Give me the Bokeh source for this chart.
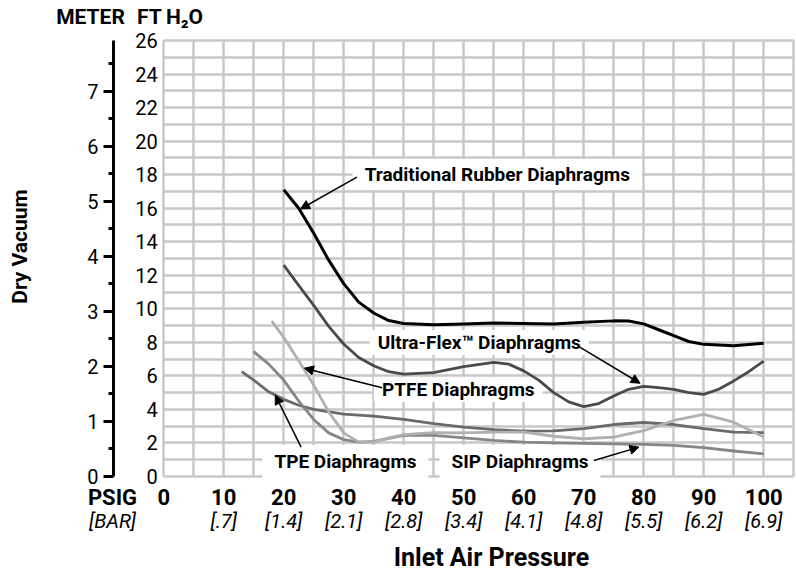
import math
from bokeh.plotting import figure
from bokeh.models import LinearAxis, Range1d, FixedTicker, Label, Arrow, NormalHead, Grid
from bokeh.embed import file_html
from bokeh.resources import INLINE

FONT = "Roboto"
FT_PER_M = 3.281

# ---- axes ----
psig_ticks = [0, 10, 20, 30, 40, 50, 60, 70, 80, 90, 100]
bar_labels = ["", "[.7]", "[1.4]", "[2.1]", "[2.8]", "[3.4]", "[4.1]", "[4.8]", "[5.5]", "[6.2]", "[6.9]"]
ft_ticks = [0, 2, 4, 6, 8, 10, 12, 14, 16, 18, 20, 22, 24, 26]
meter_ticks = [0, 1, 2, 3, 4, 5, 6, 7]
meter_minor = [0.5, 1.5, 2.5, 3.5, 4.5, 5.5, 6.5, 7.5]
unit_heads = ["METER", "FT", "H\u2082O"]

# ---- dry vacuum curves (ft H2O vs inlet PSIG) ----
rubber_psig = [20, 22.5, 25, 27.5, 30, 32.5, 35, 37.5, 40, 45, 50, 55, 60, 65, 70, 75, 77.5, 80, 82.5, 85, 87.5, 90, 95, 100]
rubber_ft = [17.1, 16.0, 14.5, 12.9, 11.5, 10.4, 9.75, 9.3, 9.12, 9.05, 9.1, 9.15, 9.12, 9.1, 9.2, 9.28, 9.27, 9.1, 8.75, 8.4, 8.05, 7.88, 7.8, 7.95]

ultra_psig = [20, 22.5, 25, 27.5, 30, 32.5, 35, 37.5, 40, 45, 50, 55, 57.5, 60, 62.5, 65, 67.5, 70, 72.5, 75, 77.5, 80, 82.5, 85, 87.5, 90, 92.5, 95, 97.5, 100]
ultra_ft = [12.6, 11.4, 10.2, 8.95, 7.9, 7.1, 6.6, 6.25, 6.1, 6.2, 6.55, 6.8, 6.7, 6.3, 5.75, 5.0, 4.45, 4.17, 4.35, 4.8, 5.2, 5.37, 5.3, 5.2, 5.0, 4.9, 5.2, 5.7, 6.25, 6.88]

ptfe_psig = [18, 20, 22.5, 25, 27.5, 30, 32.5, 35, 37.5, 40, 45, 50, 55, 60, 65, 70, 75, 80, 85, 90, 95, 100]
ptfe_ft = [9.26, 8.3, 6.9, 5.45, 3.85, 2.6, 2.05, 2.05, 2.3, 2.5, 2.62, 2.6, 2.65, 2.65, 2.4, 2.25, 2.35, 2.74, 3.34, 3.7, 3.24, 2.35]

tpe_psig = [13, 15, 17.5, 20, 22.5, 25, 30, 35, 40, 45, 50, 55, 60, 65, 70, 75, 80, 85, 90, 95, 100]
tpe_ft = [6.26, 5.75, 5.05, 4.6, 4.25, 4.0, 3.72, 3.6, 3.4, 3.15, 2.95, 2.8, 2.7, 2.72, 2.85, 3.1, 3.22, 3.1, 2.85, 2.65, 2.62]

sip_psig = [15, 17.5, 20, 22.5, 25, 27.5, 30, 32.5, 35, 40, 45, 50, 55, 60, 65, 70, 75, 80, 85, 90, 95, 100]
sip_ft = [7.45, 6.7, 5.75, 4.5, 3.4, 2.6, 2.2, 2.05, 2.1, 2.45, 2.45, 2.3, 2.15, 2.05, 2.0, 1.98, 1.95, 1.92, 1.85, 1.72, 1.52, 1.35]

GRID = "#c8c8c8"
PX_PER_FT = 16.77
FRAME_TOP, FRAME_BOTTOM = 28, 484
X0, X1 = -27.2, 105.3     # plot area also holds the two vertical scales on the left
Y0 = -(FRAME_BOTTOM - 476.0) / PX_PER_FT
Y1 = Y0 + (FRAME_BOTTOM - FRAME_TOP) / PX_PER_FT


def px_x(px):
    """canvas x pixel -> PSIG"""
    return round((px - 163.2) / 6.0, 2)


def px_y(py):
    """canvas y pixel -> ft H2O"""
    return (476.0 - py) / PX_PER_FT


p = figure(width=796, height=577,
           x_range=Range1d(X0, X1), y_range=Range1d(Y0, Y1),
           output_backend="svg", toolbar_location=None,
           min_border_left=0, min_border_right=1,
           min_border_top=FRAME_TOP, min_border_bottom=577 - FRAME_BOTTOM,
           background_fill_color="white", border_fill_color="white")
p.outline_line_color = None

xa = p.below[0]
ya = p.left[0]

# grid only over the 0-105 PSIG / 0-26 ft area
xg = p.xgrid[0]
yg = p.ygrid[0]
xg.ticker = FixedTicker(ticks=list(range(0, 106, 5)))
yg.ticker = FixedTicker(ticks=list(range(0, 27)))
if "cross_bounds" in Grid.properties():
    xg.bounds = (0, 105)
    xg.cross_bounds = (0, 26)
    yg.bounds = (0, 26)
    yg.cross_bounds = (0, 105)
    for g in (xg, yg):
        g.grid_line_color = GRID
        g.grid_line_width = 2.5
else:
    xg.visible = False
    yg.visible = False
    gx = list(range(0, 106, 5))
    gy = list(range(0, 27))
    p.segment(x0=gx, y0=[0] * len(gx), x1=gx, y1=[26] * len(gx), line_color=GRID, line_width=2.5, level="underlay")
    p.segment(x0=[0] * len(gy), y0=gy, x1=[105] * len(gy), y1=gy, line_color=GRID, line_width=2.5, level="underlay")


def bare(axis):
    axis.axis_line_color = None
    axis.major_tick_line_color = None
    axis.minor_tick_line_color = None
    axis.major_tick_out = 0
    axis.major_tick_in = 0
    axis.minor_tick_out = 0
    axis.minor_tick_in = 0
    axis.major_label_text_font = FONT
    axis.major_label_text_color = "black"


# feet scale along the left edge of the grid
bare(ya)
ya.fixed_location = 0
ya.ticker = FixedTicker(ticks=ft_ticks)
ya.major_label_standoff = 6
ya.major_label_text_font_size = "20px"

# meter scale further left
p.extra_y_ranges = {"m": Range1d(Y0 / FT_PER_M, Y1 / FT_PER_M)}
ma = LinearAxis(y_range_name="m", fixed_location=px_x(113), bounds=(0, 26 / FT_PER_M),
                ticker=FixedTicker(ticks=meter_ticks, minor_ticks=meter_minor),
                axis_line_color="black", axis_line_width=3,
                major_tick_line_color="black", major_tick_line_width=3,
                minor_tick_line_color="black", minor_tick_line_width=3,
                major_tick_out=10, major_tick_in=0, minor_tick_out=5, minor_tick_in=0,
                major_label_standoff=5,
                major_label_text_font=FONT, major_label_text_font_size="20px",
                major_label_text_color="black")
p.add_layout(ma, "left")

p.add_layout(Label(x=px_x(20), y=px_y(246), text="Dry Vacuum", angle=math.pi / 2,
                   text_font=FONT, text_font_size="21px", text_font_style="bold",
                   text_color="black", text_align="center", text_baseline="middle"))

# unit headings over the two vertical scales
head_pos = [px_x(90), px_x(149), px_x(184)]
ta = LinearAxis(ticker=FixedTicker(ticks=head_pos),
                major_label_overrides={t: s for t, s in zip(head_pos, unit_heads)})
bare(ta)
ta.major_label_standoff = 0
ta.major_label_text_font_size = "21px"
ta.major_label_text_font_style = "bold"
p.add_layout(ta, "above")

# PSIG values
psig_pos = px_x(112)
bare(xa)
xa.ticker = FixedTicker(ticks=[psig_pos] + psig_ticks)
xa.major_label_overrides = {psig_pos: "PSIG"}
xa.major_label_standoff = 0
xa.major_label_text_font_size = "22px"
xa.major_label_text_font_style = "bold"

# BAR equivalents
ba = LinearAxis(ticker=FixedTicker(ticks=[psig_pos] + psig_ticks))
bare(ba)
ba.major_label_overrides = dict([(psig_pos, "[BAR]")] + list(zip(psig_ticks, bar_labels)))
ba.major_label_standoff = -4
ba.major_label_text_font_size = "20px"
ba.major_label_text_font_style = "italic"
p.add_layout(ba, "below")

# axis title under the PSIG / BAR scales
title_pos = px_x(491)
la = LinearAxis(ticker=FixedTicker(ticks=[title_pos]),
                major_label_overrides={title_pos: "Inlet Air Pressure"})
bare(la)
la.major_label_standoff = 7
la.major_label_text_font_size = "25px"
la.major_label_text_font_style = "bold"
p.add_layout(la, "below")

# curves
p.line(rubber_psig, rubber_ft, line_color="black", line_width=3, line_join="round")
p.line(ultra_psig, ultra_ft, line_color="#4a4a4a", line_width=2.8, line_join="round")
p.line(tpe_psig, tpe_ft, line_color="#6a6a6a", line_width=2.8, line_join="round")
p.line(sip_psig, sip_ft, line_color="#868686", line_width=2.8, line_join="round")
p.line(ptfe_psig, ptfe_ft, line_color="#b0b0b0", line_width=2.8, line_join="round")


def callout(x, y, s, pad):
    p.add_layout(Label(x=x, y=y, text=s, text_font=FONT, text_font_size="19px",
                       text_font_style="bold", text_color="black", text_align="center",
                       text_baseline="middle", background_fill_color="white",
                       padding=pad, level="underlay"))


callout(55.6, px_y(174), "Traditional Rubber Diaphragms", (12, 4))
callout(52.6, px_y(342), "Ultra-Flex\u2122 Diaphragms", (8, 1))
callout(49.1, px_y(389), "PTFE Diaphragms", (8, 1))
callout(30.3, px_y(461), "TPE Diaphragms", (12, 5))
callout(59.4, px_y(461), "SIP Diaphragms", (12, 5))

arrows = [
    (32.2, 17.85, 22.8, 15.95),
    (69.2, 7.75, 79.4, 5.56),
    (36.4, 5.29, 23.45, 6.46),
    (22.9, 1.75, 18.6, 4.85),
    (71.7, 0.95, 79.2, 1.75),
]
for xs, ys, xe, ye in arrows:
    p.add_layout(Arrow(x_start=xs, y_start=ys, x_end=xe, y_end=ye,
                       line_color="black", line_width=1.5,
                       end=NormalHead(size=9, fill_color="black", line_color="black", line_width=1)))

open("out.html", "w").write(file_html(p, INLINE))
